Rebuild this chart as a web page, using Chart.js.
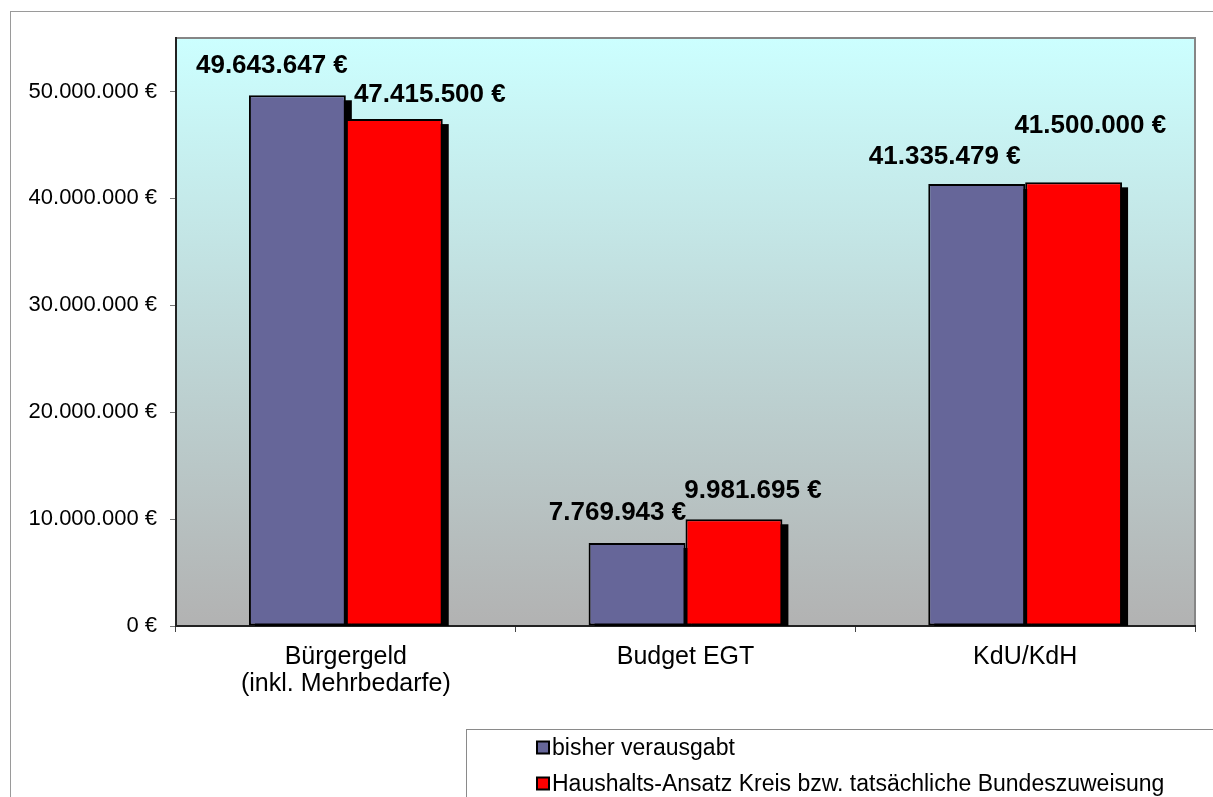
<!DOCTYPE html>
<html>
<head>
<meta charset="utf-8">
<script src="https://cdn.jsdelivr.net/npm/chart.js@4.4.1/dist/chart.umd.min.js"></script>
<style>
  html, body { margin: 0; padding: 0; background: #ffffff; }
  #wrap { position: relative; width: 1213px; height: 797px; }
</style>
</head>
<body>
<div id="wrap"><canvas id="c"></canvas></div>
<script>
// ---- data ----
const categories = [['Bürgergeld', '(inkl. Mehrbedarfe)'], 'Budget EGT', 'KdU/KdH'];
const seriesNames = ['bisher verausgabt', 'Haushalts-Ansatz Kreis bzw. tatsächliche Bundeszuweisung'];
const spentValues = [49643647, 7769943, 41335479];
const budgetValues = [47415500, 9981695, 41500000];
const yTickValues = [0, 10000000, 20000000, 30000000, 40000000, 50000000];

const FONT = "'Liberation Sans', Arial, sans-serif";
function fmtEuro(v) {
  return String(Math.round(v)).replace(/\B(?=(\d{3})+(?!\d))/g, '.') + ' €';
}

// ---- plugins ----
const plotBackground = {
  id: 'plotBackground',
  beforeDraw(chart) {
    const { ctx, chartArea: a } = chart;
    ctx.save();
    ctx.strokeStyle = '#9a9a9a';
    ctx.lineWidth = 1;
    ctx.strokeRect(10.5, 11.5, 1400, 1000);
    const g = ctx.createLinearGradient(0, a.top, 0, a.bottom);
    g.addColorStop(0, '#ccffff');
    g.addColorStop(1, '#b2b2b2');
    ctx.fillStyle = g;
    ctx.fillRect(a.left, a.top, a.right - a.left, a.bottom - a.top);
    ctx.strokeStyle = '#868686';
    ctx.lineWidth = 2;
    ctx.strokeRect(a.left, a.top, a.right - a.left, a.bottom - a.top);
    ctx.restore();
  }
};

const barShadow = {
  id: 'barShadow',
  beforeDatasetsDraw(chart, args, opts) {
    const { ctx, chartArea: a } = chart;
    ctx.save();
    ctx.beginPath();
    ctx.rect(a.left, a.top, a.right - a.left, a.bottom - a.top);
    ctx.clip();
    ctx.fillStyle = '#000';
    chart.data.datasets.forEach((ds, di) => {
      const meta = chart.getDatasetMeta(di);
      meta.data.forEach(el => {
        const left = el.x - el.width / 2;
        ctx.fillRect(left + opts.dx, el.y + opts.dy, el.width, el.base - el.y);
      });
    });
    ctx.restore();
  }
};

const valueLabels = {
  id: 'valueLabels',
  afterDatasetsDraw(chart, args, opts) {
    const { ctx } = chart;
    ctx.save();
    ctx.font = 'bold ' + opts.size + 'px ' + FONT;
    ctx.fillStyle = '#000';
    ctx.textAlign = 'center';
    ctx.textBaseline = 'middle';
    chart.data.datasets.forEach((ds, di) => {
      const meta = chart.getDatasetMeta(di);
      const off = opts.offsets[di];
      meta.data.forEach((el, i) => {
        ctx.fillText(fmtEuro(ds.data[i]), el.x + off.dx[i], el.y + off.dy[i]);
      });
    });
    ctx.restore();
  }
};

const boxLegend = {
  id: 'boxLegend',
  afterDraw(chart, args, opts) {
    const { ctx } = chart;
    ctx.save();
    ctx.strokeStyle = '#8a8a8a';
    ctx.lineWidth = 1;
    ctx.strokeRect(opts.left + 0.5, opts.top + 0.5, 1000, 200);
    ctx.font = opts.size + 'px ' + FONT;
    ctx.textBaseline = 'middle';
    ctx.textAlign = 'left';
    chart.data.datasets.forEach((ds, di) => {
      const cy = opts.firstY + di * opts.lineGap;
      ctx.fillStyle = ds.backgroundColor;
      ctx.fillRect(opts.markerX, cy - opts.marker / 2, opts.marker, opts.marker);
      ctx.strokeStyle = '#000';
      ctx.lineWidth = 2;
      ctx.strokeRect(opts.markerX, cy - opts.marker / 2, opts.marker, opts.marker);
      ctx.fillStyle = '#000';
      ctx.fillText(ds.label, opts.textX, cy + 1);
    });
    ctx.restore();
  }
};

new Chart(document.getElementById('c'), {
  type: 'bar',
  data: {
    labels: categories,
    datasets: [
      { label: seriesNames[0], data: spentValues, backgroundColor: '#666699',
        borderColor: '#000', borderWidth: 2, borderSkipped: false },
      { label: seriesNames[1], data: budgetValues, backgroundColor: '#ff0000',
        borderColor: '#000', borderWidth: 2, borderSkipped: false }
    ]
  },
  options: {
    responsive: true,
    maintainAspectRatio: false,
    animation: false,
    layout: { padding: { left: 0, top: 38, right: 18, bottom: 0 } },
    datasets: { bar: { categoryPercentage: 0.5706, barPercentage: 1.0 } },
    plugins: {
      legend: { display: false },
      tooltip: { enabled: false },
      barShadow: { dx: 6, dy: 5 },
      valueLabels: {
        size: 26,
        offsets: [
          { dx: [-25.5, -19.5, -32], dy: [-29.5, -29.7, -27] },
          { dx: [35.5, 19, 16.7], dy: [-24, -28, -56] }
        ]
      },
      boxLegend: { left: 466, top: 729, markerX: 537, marker: 12, textX: 552, firstY: 747.5, lineGap: 36, size: 23 }
    },
    scales: {
      x: {
        afterFit(scale) { scale.height = 171; },
        grid: { display: true, drawOnChartArea: false, drawTicks: true, tickLength: 6, color: '#444', offset: true },
        border: { display: true, color: '#222', width: 2 },
        ticks: { color: '#000', font: { family: FONT, size: 25, lineHeight: 1.08 }, padding: 12, maxRotation: 0, autoSkip: false }
      },
      y: {
        min: 0,
        max: 55000000,
        afterFit(scale) { scale.width = 176; },
        afterBuildTicks(scale) { scale.ticks = yTickValues.map(v => ({ value: v })); },
        grid: { display: true, drawOnChartArea: false, drawTicks: true, tickLength: 6, color: '#777' },
        border: { display: true, color: '#222', width: 2 },
        ticks: { color: '#000', font: { family: FONT, size: 22 }, padding: 13, callback: v => fmtEuro(v) }
      }
    }
  },
  plugins: [plotBackground, barShadow, valueLabels, boxLegend]
});
</script>
</body>
</html>
